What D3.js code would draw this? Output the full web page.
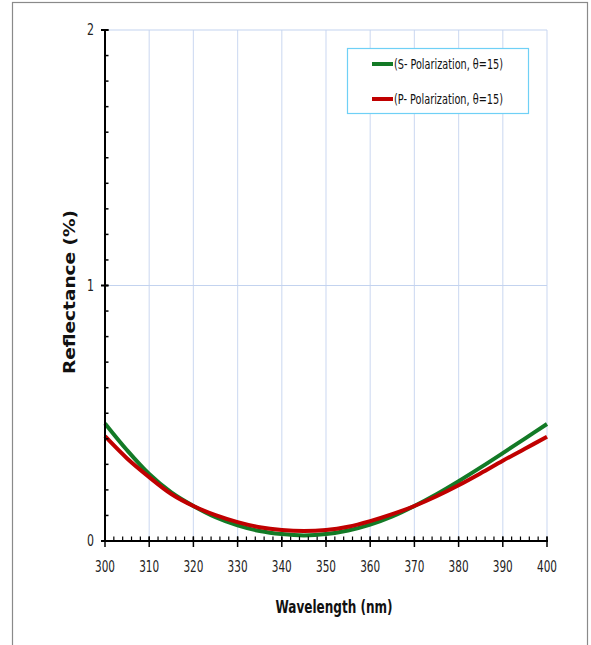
<!DOCTYPE html>
<html><head><meta charset="utf-8">
<script src="https://cdn.jsdelivr.net/npm/d3@7"></script>
<style>body{margin:0;background:#fff}svg{display:block}</style>
</head><body>
<script>
const wavelength = [300,305,310,315,320,325,330,335,340,345,350,355,360,365,370,375,380,385,390,395,400];
const sPol = [0.460,0.355,0.262,0.190,0.137,0.093,0.061,0.039,0.027,0.022,0.027,0.041,0.064,0.096,0.137,0.183,0.234,0.288,0.344,0.401,0.458];
const pPol = [0.410,0.323,0.250,0.184,0.137,0.101,0.074,0.054,0.043,0.039,0.043,0.056,0.078,0.105,0.137,0.175,0.218,0.265,0.314,0.361,0.408];
const xTicks = [300,310,320,330,340,350,360,370,380,390,400];
const yTicks = [0,1,2];
const seriesNames = ["(S- Polarization, \u03b8=15)","(P- Polarization, \u03b8=15)"];
const seriesColors = ["#137a26","#c00000"];

const W=591,H=645;
const m={l:105,r:44,t:30,b:104};
const svg=d3.select("body").append("svg").attr("width",W).attr("height",H);
const font="'Liberation Sans Narrow','DejaVu Sans Condensed','Liberation Sans',sans-serif";

// outer frame
svg.append("rect").attr("x",12.5).attr("y",2.5).attr("width",575).attr("height",H+10)
  .attr("fill","none").attr("stroke","#8a8a8a").attr("stroke-width",1.2);

const x=d3.scaleLinear().domain([300,400]).range([m.l,W-m.r]);
const y=d3.scaleLinear().domain([0,2]).range([H-m.b,m.t]);

// grid
const g=svg.append("g");
g.selectAll(".vg").data(xTicks.slice(1)).join("line")
  .attr("x1",d=>x(d)).attr("x2",d=>x(d)).attr("y1",y(2)).attr("y2",y(0))
  .attr("stroke","#d3def3").attr("stroke-width",1.2);
g.selectAll(".hg").data(yTicks.slice(1)).join("line")
  .attr("x1",x(300)).attr("x2",x(400)).attr("y1",d=>y(d)).attr("y2",d=>y(d))
  .attr("stroke","#c3d3ef").attr("stroke-width",1.2);

// lines
const line=d3.line().x((d,i)=>x(wavelength[i])).y(d=>y(d)).curve(d3.curveCatmullRom);
[sPol,pPol].forEach((s,k)=>{
  svg.append("path").attr("d",line(s)).attr("fill","none")
    .attr("stroke",seriesColors[k]).attr("stroke-width",4);
});

// axes
const ax=svg.append("g");
ax.selectAll(".mx").data(d3.range(300,401,2)).join("line")
  .attr("x1",d=>x(d)).attr("x2",d=>x(d)).attr("y1",y(0)-4.5).attr("y2",y(0))
  .attr("stroke","#000").attr("stroke-width",1.2);
ax.selectAll(".Mx").data(xTicks).join("line")
  .attr("x1",d=>x(d)).attr("x2",d=>x(d)).attr("y1",y(0)-4.5).attr("y2",y(0)+6)
  .attr("stroke","#000").attr("stroke-width",1.5);
ax.selectAll(".my").data(d3.range(0,21).map(d=>d/10)).join("line")
  .attr("x1",x(300)).attr("x2",x(300)+3.5).attr("y1",d=>y(d)).attr("y2",d=>y(d))
  .attr("stroke","#000").attr("stroke-width",1.5);
ax.selectAll(".My").data(yTicks).join("line")
  .attr("x1",x(300)-4).attr("x2",x(300)+3.5).attr("y1",d=>y(d)).attr("y2",d=>y(d))
  .attr("stroke","#000").attr("stroke-width",2);
ax.append("line").attr("x1",x(300)).attr("x2",x(400)+1).attr("y1",y(0)).attr("y2",y(0))
  .attr("stroke","#000").attr("stroke-width",2);
ax.append("line").attr("x1",x(300)).attr("x2",x(300)).attr("y1",y(2)).attr("y2",y(0))
  .attr("stroke","#000").attr("stroke-width",2);

// tick labels
ax.selectAll(".xl").data(xTicks).join("text")
  .attr("x",d=>x(d)).attr("y",y(0)+31).attr("text-anchor","middle")
  .attr("font-family",font).attr("font-size",15).attr("fill","#222")
  .attr("textLength",20).attr("lengthAdjust","spacingAndGlyphs").text(d=>d);
ax.selectAll(".yl").data(yTicks).join("text")
  .attr("x",x(300)-11).attr("y",d=>y(d)+5).attr("text-anchor","end")
  .attr("font-family",font).attr("font-size",15).attr("fill","#222")
  .attr("textLength",7).attr("lengthAdjust","spacingAndGlyphs").text(d=>d);

// axis titles
svg.append("text").attr("x",334).attr("y",613).attr("text-anchor","middle")
  .attr("font-family",font).attr("font-size",18).attr("font-weight","bold").attr("fill","#111")
  .attr("textLength",117).attr("lengthAdjust","spacingAndGlyphs")
  .text("Wavelength (nm)");
svg.append("text").attr("transform","translate(75,292) rotate(-90)").attr("text-anchor","middle")
  .attr("font-family","'DejaVu Sans',Verdana,sans-serif").attr("font-size",15).attr("font-weight","bold").attr("fill","#111")
  .attr("textLength",164).attr("lengthAdjust","spacingAndGlyphs")
  .text("Reflectance (%)");

// legend
const lg=svg.append("g");
lg.append("rect").attr("x",347.5).attr("y",48.5).attr("width",181).attr("height",65)
  .attr("fill","#fff").attr("stroke","#6fd0f6").attr("stroke-width",1.2);
seriesNames.forEach((n,i)=>{
  const yy=64+i*35;
  lg.append("line").attr("x1",372).attr("x2",393).attr("y1",yy).attr("y2",yy)
    .attr("stroke",seriesColors[i]).attr("stroke-width",4);
  lg.append("text").attr("x",394).attr("y",yy+5).attr("font-family",font)
    .attr("font-size",14).attr("fill","#111")
    .attr("textLength",109).attr("lengthAdjust","spacingAndGlyphs").text(n);
});
</script>
</body></html>
